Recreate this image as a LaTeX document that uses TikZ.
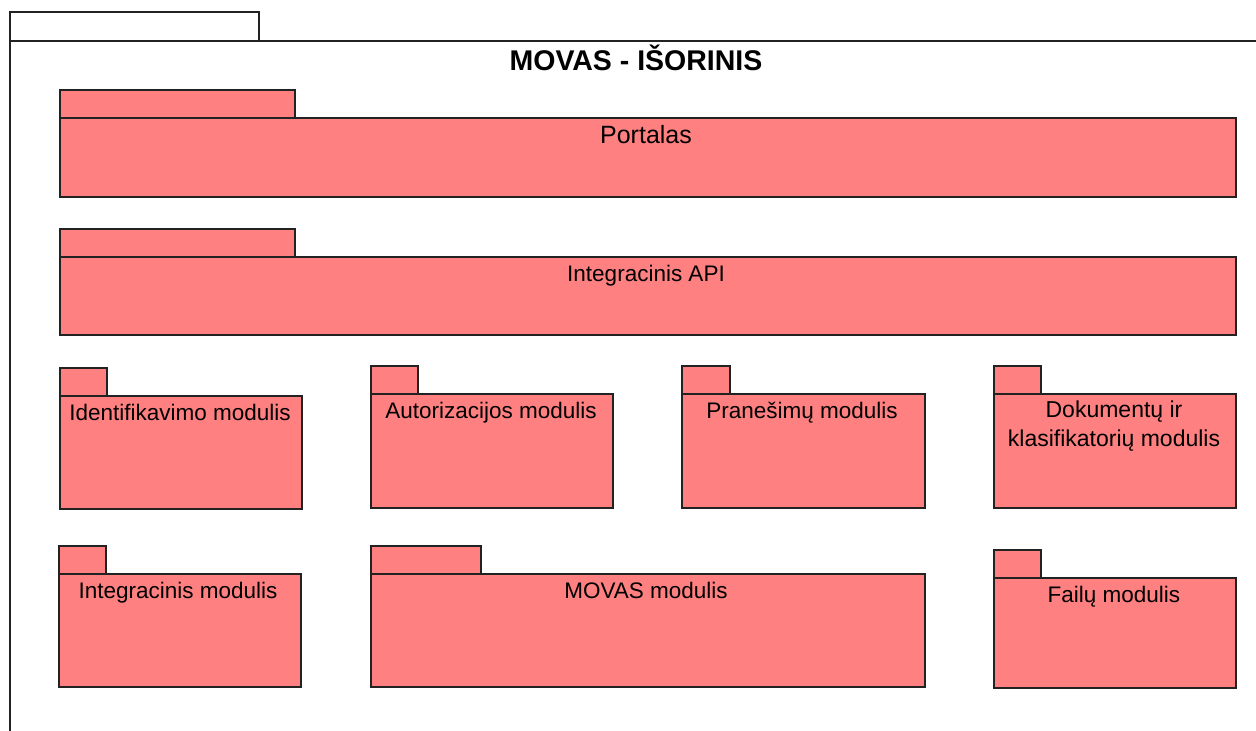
\documentclass[tikz,border=0pt]{standalone}
\usepackage{fontspec}
\setmainfont{Liberation Sans}
\definecolor{pkgfill}{HTML}{FF8080}
\definecolor{pkgline}{HTML}{222222}
\begin{document}
\begin{tikzpicture}[x=1pt,y=-1pt,
  pkg/.style={draw=pkgline,line width=1.3pt,fill=pkgfill},
  frame/.style={draw=pkgline,line width=1.3pt},
  lbl/.style={anchor=base,font=\fontsize{22.5}{29}\selectfont,text=black,inner sep=0pt,align=center},
  ttl/.style={anchor=base,font=\fontsize{28.5}{34}\selectfont\bfseries,text=black,inner sep=0pt}]
\useasboundingbox (0,0) rectangle (1256,731);
\begin{scope}
\clip (0,0) rectangle (1256,731);
\draw[frame] (10,41) -- (10,12) -- (259,12) -- (259,41);
\draw[frame] (1300,41) -- (10,41) -- (10,780);
\end{scope}
\node[ttl] (title) at (636,70) {MOVAS - IŠORINIS};
% Portalas
\draw[pkg] (60,90) rectangle (295,118);
\draw[pkg] (60,118) rectangle (1236,197);
\node[lbl,font=\fontsize{25}{30}\selectfont] (portalas) at (646,143.5) {Portalas};
% Integracinis API
\draw[pkg] (60,229) rectangle (295,257);
\draw[pkg] (60,257) rectangle (1236,335);
\node[lbl] (api) at (646,281) {Integracinis API};
% Row 1
\draw[pkg] (60,368) rectangle (107,396);
\draw[pkg] (60,396) rectangle (302,509);
\node[lbl] (ident) at (180,420) {Identifikavimo modulis};
\draw[pkg] (371,366) rectangle (418,394);
\draw[pkg] (371,394) rectangle (613,508);
\node[lbl] (autor) at (491,418) {Autorizacijos modulis};
\draw[pkg] (682,366) rectangle (730,394);
\draw[pkg] (682,394) rectangle (925,508);
\node[lbl] (pran) at (802,418) {Pranešimų modulis};
\draw[pkg] (994,366) rectangle (1041,394);
\draw[pkg] (994,394) rectangle (1236,508);
\node[lbl,anchor=north,font=\fontsize{23}{29}\selectfont] (dok) at (1114,400.5) {Dokumentų ir\\klasifikatorių modulis};
% Row 2
\draw[pkg] (59,546) rectangle (106,574);
\draw[pkg] (59,574) rectangle (301,687);
\node[lbl] (integ) at (178,598) {Integracinis modulis};
\draw[pkg] (371,546) rectangle (481,574);
\draw[pkg] (371,574) rectangle (925,687);
\node[lbl] (movas) at (646,598) {MOVAS modulis};
\draw[pkg] (994,550) rectangle (1041,578);
\draw[pkg] (994,578) rectangle (1236,688);
\node[lbl] (failu) at (1114,602) {Failų modulis};
\end{tikzpicture}
\end{document}
